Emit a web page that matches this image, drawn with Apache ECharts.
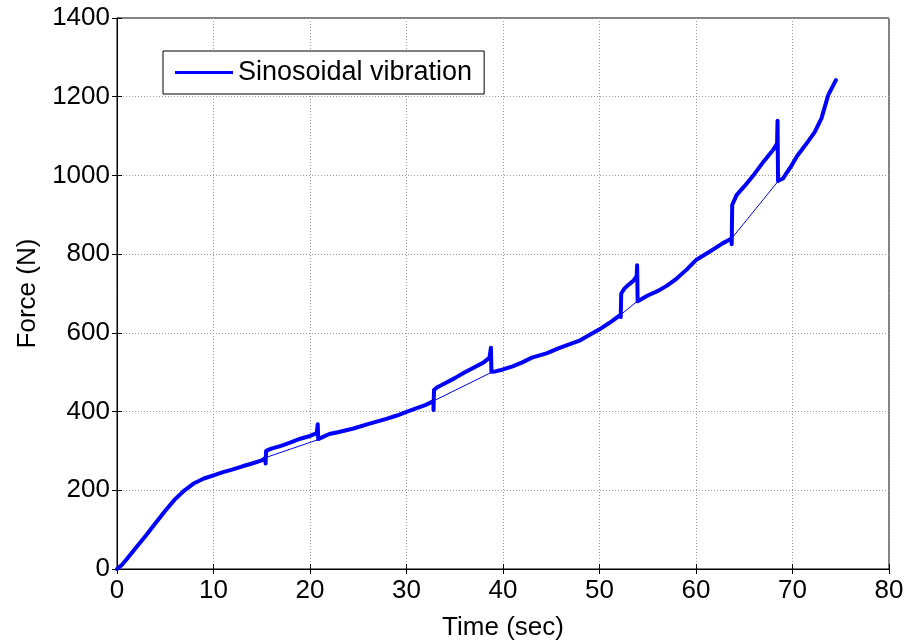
<!DOCTYPE html>
<html><head><meta charset="utf-8">
<script src="https://cdn.jsdelivr.net/npm/echarts@6/dist/echarts.min.js"></script>
<style>html,body{margin:0;padding:0;background:#fff}#c{width:910px;height:641px}</style>
</head><body><div id="c"></div><script>
const seriesName = 'Sinosoidal vibration';
const xAxisName = 'Time (sec)';
const yAxisName = 'Force (N)';
const xTickValues = [0, 10, 20, 30, 40, 50, 60, 70, 80];
const yTickValues = [0, 200, 400, 600, 800, 1000, 1200, 1400];

// main measured curve (thick)
const timeSec = [0,0.5,1,2,3,4,5,6,7,8,9,10,11,12,13,14,15,15.4,
  15.4,15.45,16,17,18,19,20,20.7,20.8,20.85,21.0,22,23,24.5,26,28,29,30,31,32,32.8,
  32.8,32.85,33.2,34,35,36,37,38,38.6,38.75,38.8,39.2,40,41,42,43,44.5,46,48,50,51,52.2,
  52.2,52.25,52.6,53,53.5,53.85,53.9,53.95,54.5,55,56,57,58,59,60,61.4,62.8,63.7,
  63.7,63.75,64.2,65,66,67,68,68.4,68.45,68.5,69,69.9,70.5,71.6,72.3,73,73.7,74.5];
const forceN = [0,10,25,55,85,117,148,177,200,218,230,238,246,253,261,268,276,283,
  268,300,306,313,322,331,338,345,368,330,332,343,348,357,368,382,390,399,408,417,427,
  404,455,462,472,485,499,512,525,537,562,501,502,507,515,525,537,548,563,581,609,625,646,
  640,700,713,722,732,744,772,680,688,695,706,720,738,760,785,806,828,840,
  825,925,950,972,1002,1035,1065,1081,1139,986,992,1025,1050,1086,1110,1145,1204,1242];

// thin straight chords across each jump
const chordTime = [15.4, 21.0, null, 32.8, 39.0, null, 52.2, 54.0, null, 63.7, 68.6];
const chordForce = [283, 330, null, 427, 502, null, 646, 682, null, 840, 988];

const mainData = timeSec.map((t, i) => [t, forceN[i]]);
const chordData = chordTime.map((t, i) => t === null ? [null, null] : [t, chordForce[i]]);

const font = 'Arial, "Liberation Sans", sans-serif';
const gridLine = {show: true, lineStyle: {color: '#9a9a9a', type: [1, 2], width: 1}};
const plain = v => String(v);

const chart = echarts.init(document.getElementById('c'));
chart.setOption({
  animation: false,
  backgroundColor: '#fff',
  grid: {left: 117, right: 21, top: 18, bottom: 72, outerBoundsMode: 'none', containLabel: false,
    show: true, borderColor: '#000', borderWidth: 1},
  legend: {
    data: [seriesName], left: 163, top: 51, icon: 'rect', itemWidth: 58, itemHeight: 3,
    padding: [8, 12, 8, 12], borderColor: '#000', borderWidth: 1, backgroundColor: '#fff',
    textStyle: {fontFamily: font, fontSize: 27, color: '#000'}
  },
  xAxis: [{
    type: 'value', min: xTickValues[0], max: xTickValues[xTickValues.length - 1], interval: 10,
    name: xAxisName, nameLocation: 'middle', nameGap: 46,
    nameTextStyle: {fontFamily: font, fontSize: 26, color: '#000'},
    axisLine: {lineStyle: {color: '#000', width: 1}}, axisTick: {inside: true, length: 5, lineStyle: {color: '#000'}},
    axisLabel: {fontFamily: font, fontSize: 26, color: '#000', margin: 9, formatter: plain},
    splitLine: gridLine
  }, {
    type: 'value', position: 'top', min: 0, max: 80, interval: 10,
    axisLine: {lineStyle: {color: '#000'}}, axisTick: {inside: true, length: 5, lineStyle: {color: '#000'}},
    axisLabel: {show: false}, splitLine: {show: false}
  }],
  yAxis: [{
    type: 'value', min: yTickValues[0], max: yTickValues[yTickValues.length - 1], interval: 200,
    name: yAxisName, nameLocation: 'middle', nameGap: 75,
    nameTextStyle: {fontFamily: font, fontSize: 26, color: '#000'},
    axisLine: {show: true, lineStyle: {color: '#000', width: 1}}, axisTick: {show: true, inside: true, length: 5, lineStyle: {color: '#000'}},
    axisLabel: {fontFamily: font, fontSize: 26, color: '#000', margin: 7, formatter: plain},
    splitLine: gridLine
  }, {
    type: 'value', position: 'right', min: 0, max: 1400, interval: 200,
    axisLine: {show: true, lineStyle: {color: '#000'}}, axisTick: {show: true, inside: true, length: 5, lineStyle: {color: '#000'}},
    axisLabel: {show: false}, splitLine: {show: false}
  }],
  series: [{
    name: 'chords', type: 'line', data: chordData, showSymbol: false, symbol: 'none',
    connectNulls: false, lineStyle: {color: '#0000ff', width: 1}, silent: true
  }, {
    name: seriesName, type: 'line', data: mainData, showSymbol: false, symbol: 'none',
    itemStyle: {color: '#0000ff'}, lineStyle: {color: '#0000ff', width: 4, join: 'round', cap: 'round'}
  }]
});
</script></body></html>
